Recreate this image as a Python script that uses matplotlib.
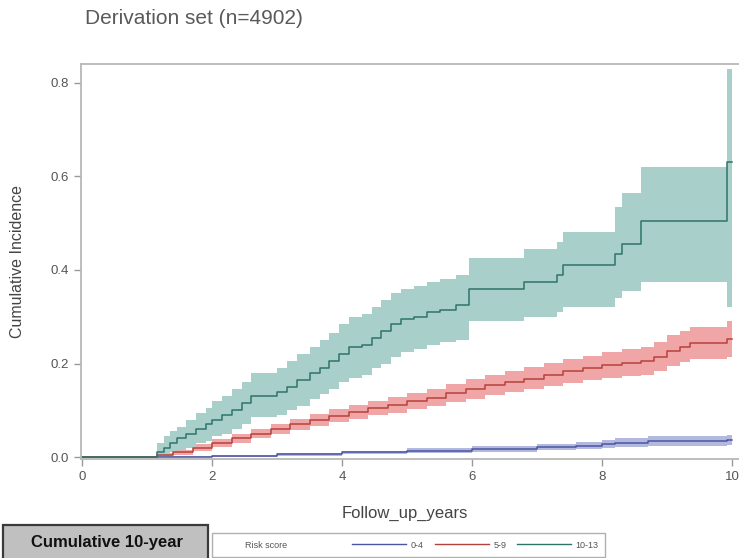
import numpy as np
import matplotlib.pyplot as plt
from matplotlib.lines import Line2D
from matplotlib.patches import Rectangle

plt.rcParams['font.family'] = ['Liberation Sans', 'DejaVu Sans']

# cumulative incidence by risk score group (time, estimate, lower CI, upper CI)
low_t = [0, 1.2, 2.0, 3.0, 4.0, 5.0, 6.0, 7.0, 7.6, 8.0, 8.2, 8.7, 9.92, 10.0]
low_est = [0, 0.001, 0.003, 0.006, 0.010, 0.014, 0.018, 0.021, 0.024, 0.027, 0.030, 0.034, 0.036, 0.036]
low_lo = [0, 0.0, 0.001, 0.003, 0.006, 0.009, 0.012, 0.015, 0.017, 0.019, 0.021, 0.024, 0.025, 0.025]
low_hi = [0, 0.003, 0.005, 0.009, 0.014, 0.019, 0.024, 0.028, 0.032, 0.036, 0.040, 0.046, 0.047, 0.047]

mid_t = [0, 1.15, 1.4, 1.7, 2.0, 2.3, 2.6, 2.9, 3.2, 3.5, 3.8, 4.1, 4.4, 4.7, 5.0, 5.3, 5.6,
         5.9, 6.2, 6.5, 6.8, 7.1, 7.4, 7.7, 8.0, 8.3, 8.6, 8.8, 9.0, 9.2, 9.35, 9.92, 10.0]
mid_est = [0, 0.004, 0.010, 0.020, 0.030, 0.040, 0.050, 0.060, 0.070, 0.079, 0.088, 0.097, 0.104,
           0.111, 0.119, 0.127, 0.136, 0.145, 0.154, 0.161, 0.168, 0.176, 0.184, 0.190, 0.196,
           0.201, 0.205, 0.215, 0.226, 0.236, 0.243, 0.252, 0.252]
mid_lo = [0, 0.001, 0.005, 0.013, 0.022, 0.031, 0.040, 0.049, 0.058, 0.066, 0.074, 0.082, 0.089,
          0.095, 0.102, 0.109, 0.117, 0.125, 0.133, 0.139, 0.145, 0.152, 0.159, 0.164, 0.169,
          0.173, 0.176, 0.185, 0.194, 0.203, 0.210, 0.215, 0.215]
mid_hi = [0, 0.008, 0.015, 0.027, 0.038, 0.049, 0.060, 0.071, 0.082, 0.092, 0.102, 0.112, 0.120,
          0.128, 0.137, 0.146, 0.156, 0.166, 0.176, 0.184, 0.192, 0.201, 0.210, 0.217, 0.224,
          0.230, 0.235, 0.247, 0.260, 0.270, 0.278, 0.290, 0.290]

high_t = [0, 1.15, 1.25, 1.35, 1.45, 1.6, 1.75, 1.9, 2.0, 2.15, 2.3, 2.45, 2.6, 2.8, 3.0, 3.15,
          3.3, 3.5, 3.65, 3.8, 3.95, 4.1, 4.3, 4.45, 4.6, 4.75, 4.9, 5.1, 5.3, 5.5, 5.75, 5.95,
          6.8, 7.3, 7.4, 8.2, 8.3, 8.6, 9.92, 10.0]
high_est = [0, 0.01, 0.02, 0.03, 0.04, 0.05, 0.06, 0.07, 0.08, 0.09, 0.10, 0.115, 0.13, 0.13,
            0.14, 0.15, 0.165, 0.18, 0.19, 0.205, 0.22, 0.235, 0.24, 0.255, 0.27, 0.285, 0.295,
            0.30, 0.31, 0.315, 0.325, 0.36, 0.375, 0.39, 0.41, 0.435, 0.455, 0.505, 0.63, 0.63]
high_lo = [0, 0.0, 0.005, 0.01, 0.015, 0.02, 0.03, 0.035, 0.045, 0.05, 0.06, 0.07, 0.085, 0.085,
           0.09, 0.10, 0.11, 0.125, 0.135, 0.145, 0.16, 0.17, 0.175, 0.19, 0.20, 0.215, 0.225,
           0.23, 0.24, 0.245, 0.25, 0.29, 0.30, 0.31, 0.32, 0.34, 0.355, 0.375, 0.32, 0.32]
high_hi = [0, 0.03, 0.045, 0.055, 0.065, 0.08, 0.095, 0.105, 0.12, 0.13, 0.145, 0.16, 0.18, 0.18,
           0.19, 0.205, 0.22, 0.235, 0.25, 0.265, 0.285, 0.30, 0.305, 0.32, 0.335, 0.35, 0.36,
           0.365, 0.375, 0.38, 0.39, 0.425, 0.445, 0.46, 0.48, 0.535, 0.565, 0.62, 0.83, 0.83]

groups = ["0-4", "5-9", "10-13"]
line_colors = ["#4b56a0", "#b5423b", "#2f7469"]
fill_colors = ["#b3b8df", "#f0a6a6", "#a9cfca"]

fig = plt.figure(figsize=(7.39, 5.58), dpi=100)
ax = fig.add_axes([81 / 739, 1 - 459 / 558, 671 / 739, 395 / 558])

series = [(low_t, low_est, low_lo, low_hi),
          (mid_t, mid_est, mid_lo, mid_hi),
          (high_t, high_est, high_lo, high_hi)]

for i, (t, est, lo, hi) in enumerate(series):
    ax.fill_between(t, lo, hi, step="post", color=fill_colors[i], lw=0)
for i, (t, est, lo, hi) in enumerate(series):
    ax.step(t, est, where="post", color=line_colors[i], lw=1.1)

ax.set_xlim(-0.02, 10.3)
ax.set_ylim(-0.004, 0.84)
ax.set_xticks([0, 2, 4, 6, 8, 10])
ax.set_yticks([0.0, 0.2, 0.4, 0.6, 0.8])
ax.set_yticklabels(["0.0", "0.2", "0.4", "0.6", "0.8"])
ax.tick_params(colors="#9a9a9a", labelcolor="#555555", labelsize=9.5, length=5, width=1, pad=4)
for s in ax.spines.values():
    s.set_color("#b8b8b8")
    s.set_linewidth(1.3)

fig.text(85 / 739, 1 - 18 / 558, "Derivation set (n=4902)", fontsize=15, color="#5a5a5a",
         ha="left", va="center")
fig.text(18 / 739, 1 - 262 / 558, "Cumulative Incidence", fontsize=11.5, color="#444444",
         rotation=90, ha="center", va="center")
fig.text(405 / 739, 1 - 513 / 558, "Follow_up_years", fontsize=12, color="#444444",
         ha="center", va="center")

# table header box below the plot
fig.patches.append(Rectangle((3 / 739, -0.05), 205 / 739, 0.05 + 33 / 558,
                             transform=fig.transFigure, facecolor="#c0c0c0",
                             edgecolor="#3a3a3a", lw=1.6))
fig.text(107 / 739, 1 - 543 / 558, "Cumulative 10-year", fontsize=12, fontweight="bold",
         color="#111111", ha="center", va="center")

# legend box
fig.patches.append(Rectangle((212 / 739, 1 - 557 / 558), 393 / 739, 24 / 558,
                             transform=fig.transFigure, facecolor="white",
                             edgecolor="#b0b0b0", lw=1))
fig.text(245 / 739, 1 - 545 / 558, "Risk score", fontsize=6.5, color="#555555",
         ha="left", va="center")
handles = [Line2D([], [], color=c, lw=1) for c in line_colors]
fig.legend(handles, groups, loc="center left", bbox_to_anchor=(352 / 739, 1 - 545 / 558),
           ncol=3, frameon=False, fontsize=6.5, handlelength=6, handletextpad=0.5,
           columnspacing=1.2, borderpad=0, borderaxespad=0, labelcolor="#555555")

plt.savefig("out.png", dpi=100)
